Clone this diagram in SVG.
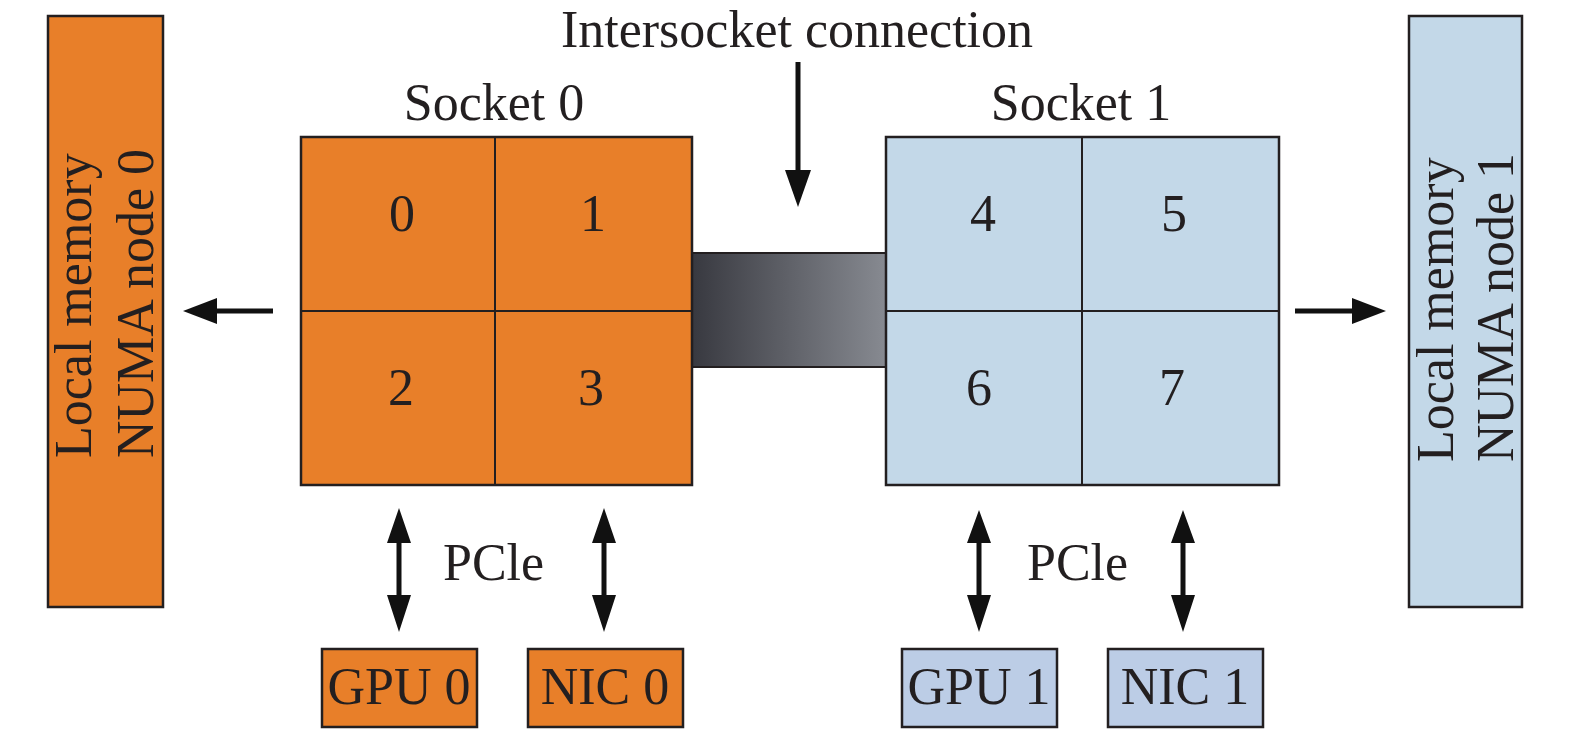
<svg xmlns="http://www.w3.org/2000/svg" width="1575" height="732" viewBox="0 0 1575 732">
<style>
text{font-family:"Liberation Serif","Times New Roman",serif;font-size:52px;fill:#231f20}
.c{text-anchor:middle}
.or{fill:#e87f29;stroke:#231f20;stroke-width:2.5}
.bl{fill:#c3d8e8;stroke:#231f20;stroke-width:2.5}
.lv{fill:#bccde6;stroke:#231f20;stroke-width:2.5}
.div{stroke:#231f20;stroke-width:2;fill:none}
.ln{stroke:#111;stroke-width:5;fill:none}
.hd{fill:#111}
</style>
<defs>
<linearGradient id="br" x1="0" y1="0" x2="1" y2="0">
<stop offset="0" stop-color="#383940"/>
<stop offset="1" stop-color="#878a91"/>
</linearGradient>
</defs>
<rect width="1575" height="732" fill="#fff"/>

<g id="mem0">
<rect class="or" x="48" y="16" width="115" height="591"/>
<text transform="translate(91,458) rotate(-90)">Local memory</text>
<text transform="translate(153,458) rotate(-90)">NUMA node 0</text>
</g>

<g id="mem1">
<rect class="bl" x="1409" y="16" width="113" height="591"/>
<text transform="translate(1453,462) rotate(-90)">Local memory</text>
<text transform="translate(1513,462) rotate(-90)">NUMA node 1</text>
</g>

<g id="bridge">
<rect x="692" y="253" width="194" height="114" fill="url(#br)" stroke="#231f20" stroke-width="2"/>
</g>

<g id="socket0">
<text class="c" x="494" y="120">Socket 0</text>
<rect class="or" x="301" y="137" width="391" height="348"/>
<path class="div" d="M495 137V485M301 311H692"/>
<text class="c" x="402" y="231">0</text>
<text class="c" x="593" y="231">1</text>
<text class="c" x="401" y="405">2</text>
<text class="c" x="591" y="405">3</text>
</g>

<g id="socket1">
<text class="c" x="1081" y="120">Socket 1</text>
<rect class="bl" x="886" y="137" width="393" height="348"/>
<path class="div" d="M1082 137V485M886 311H1279"/>
<text class="c" x="983" y="231">4</text>
<text class="c" x="1174" y="231">5</text>
<text class="c" x="979" y="405">6</text>
<text class="c" x="1172" y="405">7</text>
</g>

<g id="intersocket-label">
<text class="c" x="797" y="47">Intersocket connection</text>
</g>

<g id="gpu0"><rect class="or" x="322" y="649" width="155" height="78"/><text class="c" x="399" y="704">GPU 0</text></g>
<g id="nic0"><rect class="or" x="528" y="649" width="155" height="78"/><text class="c" x="605" y="704">NIC 0</text></g>
<g id="gpu1"><rect class="lv" x="902" y="649" width="155" height="78"/><text class="c" x="979" y="704">GPU 1</text></g>
<g id="nic1"><rect class="lv" x="1108" y="649" width="155" height="78"/><text class="c" x="1185" y="704">NIC 1</text></g>

<g id="pcie-labels">
<text x="443" y="580">PCle</text>
<text x="1027" y="580">PCle</text>
</g>

<g id="connectors">
<path class="ln" d="M798 62V175"/>
<path class="hd" d="M785 170H811L798 207Z"/>
<path class="ln" d="M273 311H212"/>
<path class="hd" d="M183 311L217 298V324Z"/>
<path class="ln" d="M1295 311H1357"/>
<path class="hd" d="M1386 311L1352 298V324Z"/>
<path class="ln" d="M399 538V600"/>
<path class="hd" d="M399 508L411 543H387Z M399 632L411 595H387Z"/>
<path class="ln" d="M604 538V600"/>
<path class="hd" d="M604 508L616 543H592Z M604 632L616 595H592Z"/>
<path class="ln" d="M979 538V600"/>
<path class="hd" d="M979 510L991 543H967Z M979 632L991 595H967Z"/>
<path class="ln" d="M1183 538V600"/>
<path class="hd" d="M1183 510L1195 543H1171Z M1183 632L1195 595H1171Z"/>
</g>
</svg>
